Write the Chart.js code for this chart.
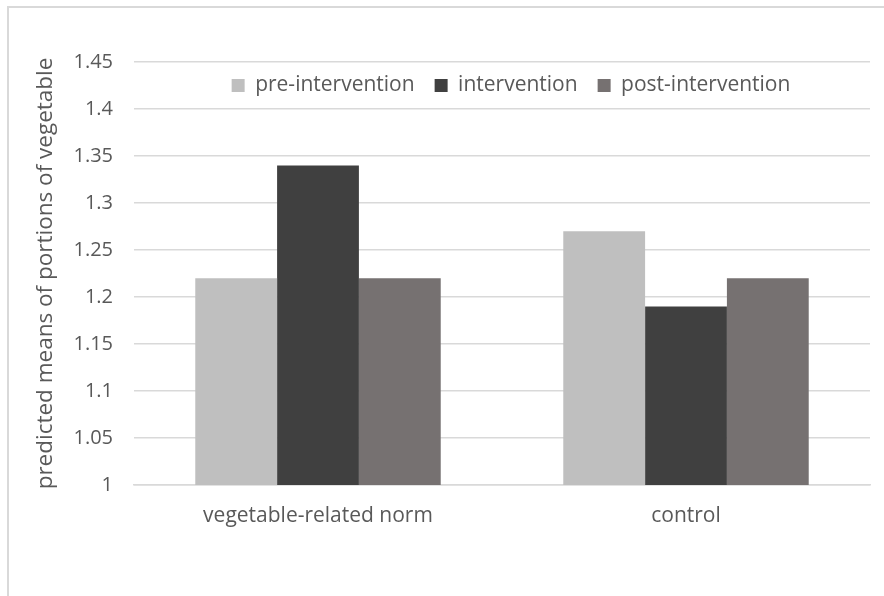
<!DOCTYPE html>
<html>
<head>
<meta charset="utf-8">
<script src="https://cdn.jsdelivr.net/npm/chart.js@4.4.0/dist/chart.umd.min.js"></script>
<style>
  html, body { margin: 0; padding: 0; background: #fff; overflow: hidden; }
  #frame {
    position: absolute; left: 7px; top: 6px; width: 900px; height: 620px;
    border: 2px solid #d9d9d9; box-sizing: border-box;
  }
  #wrap { position: absolute; left: 0; top: 0; width: 884px; height: 596px; }
</style>
</head>
<body>
<div id="frame"></div>
<div id="wrap"><canvas id="barChart"></canvas></div>
<script>
// Chart data
const categories = ['vegetable-related norm', 'control'];
const preIntervention = [1.22, 1.27];
const intervention = [1.34, 1.19];
const postIntervention = [1.22, 1.22];
const yTickLabels = ['1', '1.05', '1.1', '1.15', '1.2', '1.25', '1.3', '1.35', '1.4', '1.45'];

const textColor = '#595959';
const gridColor = '#d9d9d9';
const fontFamily = '"Open Sans", "Noto Sans", sans-serif';

// legend takes no layout space, so it sits inside the plot area
const legendInside = {
    id: 'legendInside',
    beforeInit(chart) {
        const legend = chart.legend;
        if (!legend) return;
        const fit = legend.fit.bind(legend);
        legend.fit = function() {
            fit();
            this._realHeight = this.height;
            this.height = 0;
        };
    },
    afterLayout(chart) {
        const legend = chart.legend;
        if (legend && legend._realHeight) {
            legend.left += 60;
            legend.right += 60;
            legend.top -= 7;
            legend.height = legend._realHeight;
            legend.bottom = legend.top + legend._realHeight;
        }
    }
};

function initializeBarChart() {
    const ctx = document.getElementById('barChart').getContext('2d');
    new Chart(ctx, {
        type: 'bar',
        data: {
            labels: categories,
            datasets: [
                { label: 'pre-intervention', data: preIntervention, backgroundColor: '#bfbfbf' },
                { label: 'intervention', data: intervention, backgroundColor: '#404040' },
                { label: 'post-intervention', data: postIntervention, backgroundColor: '#767171' }
            ]
        },
        plugins: [legendInside],
        options: {
            responsive: true,
            maintainAspectRatio: false,
            animation: false,
            layout: { padding: { left: 32, top: 62, right: 14, bottom: 0 } },
            datasets: {
                bar: { categoryPercentage: 0.667, barPercentage: 1.0, borderWidth: 0 }
            },
            plugins: {
                legend: {
                    position: 'top',
                    align: 'center',
                    labels: {
                        color: textColor,
                        font: { family: fontFamily, size: 21 },
                        boxWidth: 13,
                        boxHeight: 13,
                        padding: 20
                    }
                },
                tooltip: { enabled: false }
            },
            scales: {
                x: {
                    grid: { display: false, drawTicks: false },
                    border: { color: gridColor, width: 1.5 },
                    ticks: {
                        color: textColor,
                        font: { family: fontFamily, size: 21 },
                        padding: 18
                    },
                    afterFit: function(scale) { scale.height = 596 - 485; }
                },
                y: {
                    min: 1,
                    max: 1.45,
                    grid: { color: gridColor, lineWidth: 1.5, drawTicks: false },
                    border: { display: false },
                    ticks: {
                        stepSize: 0.05,
                        color: textColor,
                        font: { family: fontFamily, size: 20 },
                        padding: 21,
                        callback: function(value, index) { return yTickLabels[index]; }
                    },
                    title: {
                        display: true,
                        text: 'predicted means of portions of vegetable',
                        color: textColor,
                        font: { family: fontFamily, size: 22.5 },
                        padding: 0
                    },
                    afterFit: function(scale) { scale.width = 134 - 32; }
                }
            }
        }
    });
}

initializeBarChart();
</script>
</body>
</html>
